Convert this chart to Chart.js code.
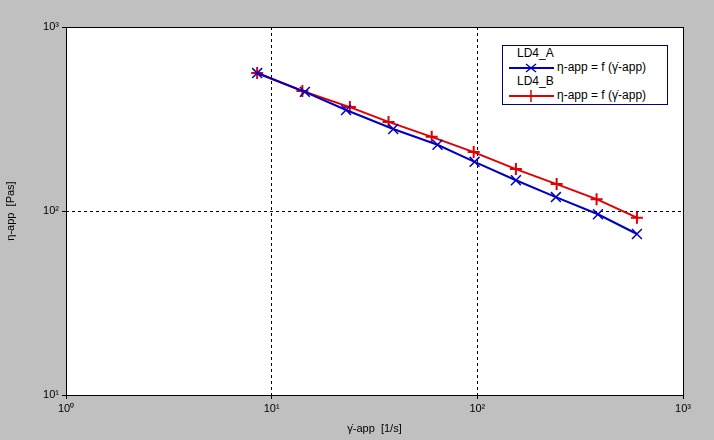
<!DOCTYPE html>
<html><head><meta charset="utf-8">
<script src="https://cdn.jsdelivr.net/npm/chart.js@4"></script>
<style>
body{margin:0;background:#c0c0c0;}
#wrap{position:relative;width:714px;height:440px;}
#legend{position:absolute;left:502px;top:45px;width:164px;height:58px;border:1px solid #000080;background:#fff;font:12px "Liberation Sans",Arial,sans-serif;}
#legend div{position:absolute;white-space:nowrap;}
</style></head>
<body>
<div id="wrap"><canvas id="c" width="714" height="440"></canvas>
<div id="legend">
  <div style="left:14px;top:0px">LD4_A</div>
  <div style="left:54px;top:14px">η-app = f (γ̇-app)</div>
  <div style="left:14px;top:28px">LD4_B</div>
  <div style="left:54px;top:42px">η-app = f (γ̇-app)</div>
  <svg style="position:absolute;left:6px;top:16px" width="46" height="40">
    <line x1="0" y1="6" x2="45" y2="6" stroke="#0000c0" stroke-width="2"/>
    <line x1="17" y1="2" x2="27" y2="10" stroke="#0000c0" stroke-width="1.5"/>
    <line x1="17" y1="10" x2="27" y2="2" stroke="#0000c0" stroke-width="1.5"/>
    <line x1="0" y1="34" x2="45" y2="34" stroke="#e00000" stroke-width="2"/>
    <line x1="22" y1="28" x2="22" y2="40" stroke="#e00000" stroke-width="1.5"/>
  </svg>
</div></div>
<script>
const shearA = [8.5, 14.5, 23, 39, 64, 97, 154, 241, 386, 597];
const viscA = [562, 444, 354, 279, 229, 185, 147, 119, 96, 75];
const shearB = [8.5, 14.1, 24, 37, 60, 96, 154, 243, 380, 597];
const viscB = [562, 449, 367, 305, 253, 209, 169, 140, 116, 92];
const xTicks = [1, 10, 100, 1000];
const yTicks = [10, 100, 1000];
const sup = {0:'⁰',1:'¹',2:'²',3:'³'};
const lbl = v => '10' + sup[Math.round(Math.log10(v))];

const bg = {id:'bg', beforeDraw(c){const a=c.chartArea,x=c.ctx;x.save();x.fillStyle='#fff';x.fillRect(a.left,a.top,a.right-a.left,a.bottom-a.top);x.restore();},
  afterDraw(c){const a=c.chartArea,x=c.ctx;x.save();x.strokeStyle='#000';x.lineWidth=1;x.strokeRect(a.left+0.5,a.top+0.5,a.right-a.left,a.bottom-a.top);x.restore();}};

new Chart(document.getElementById('c'), {
  type: 'line',
  data: { datasets: [
    { data: shearA.map((v,i)=>({x:v,y:viscA[i]})), borderColor:'#0000c0', borderWidth:2, pointStyle:'crossRot', pointRadius:7, pointBorderWidth:1.5, pointBorderColor:'#0000c0' },
    { data: shearB.map((v,i)=>({x:v,y:viscB[i]})), borderColor:'#e00000', borderWidth:2, pointStyle:'cross', pointRadius:6, pointBorderWidth:2, pointBorderColor:'#e00000' }
  ]},
  options: {
    responsive:false, animation:false,
    layout:{padding:{top:27,right:31,left:0,bottom:0}},
    plugins:{legend:{display:false},tooltip:{enabled:false}},
    scales:{
      x:{type:'logarithmic',min:1,max:1000,
        afterBuildTicks:a=>{a.ticks=xTicks.map(v=>({value:v}));},
        afterFit:a=>{a.height=45;},
        ticks:{callback:v=>lbl(v),color:'#000',font:{size:11,family:'Liberation Sans'},maxRotation:0},
        grid:{color:'#000',tickLength:4,drawTicks:true},border:{dash:[3,3],display:false},
        title:{display:true,text:'γ̇-app  [1/s]',color:'#000',font:{size:11,family:'Liberation Sans'},padding:{top:2}}},
      y:{type:'logarithmic',min:10,max:1000,
        afterBuildTicks:a=>{a.ticks=yTicks.map(v=>({value:v}));},
        afterFit:a=>{a.width=66;},
        ticks:{callback:v=>lbl(v),color:'#000',font:{size:11,family:'Liberation Sans'}},
        grid:{color:'#000',tickLength:4},border:{dash:[3,3],display:false},
        title:{display:true,text:'η-app  [Pas]',color:'#000',font:{size:11,family:'Liberation Sans'}}}
    }
  },
  plugins:[bg]
});
</script></body></html>
